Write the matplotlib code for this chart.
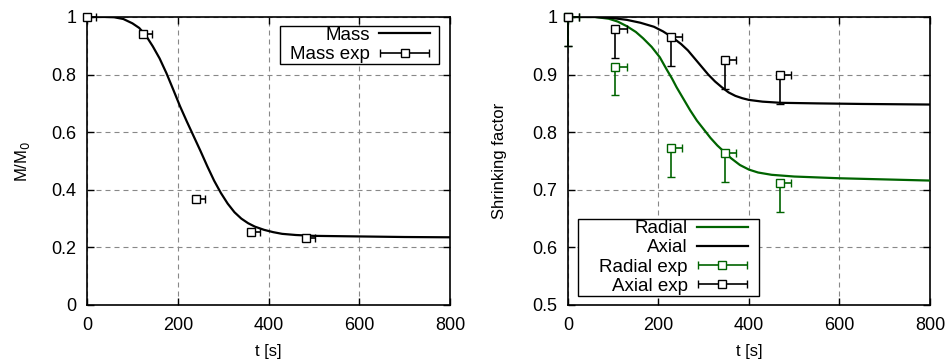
import matplotlib
matplotlib.use("Agg")
import matplotlib.pyplot as plt
from matplotlib.container import ErrorbarContainer
from matplotlib.legend_handler import HandlerErrorbar
from matplotlib.offsetbox import DrawingArea
import numpy as np

plt.rcParams['font.family'] = ['Liberation Sans', 'DejaVu Sans']
plt.rcParams['font.size'] = 13

# ---- Left panel data ----
mass_t = [0, 40, 60, 80, 100, 115, 130, 145, 160, 175, 190, 205, 220, 235, 250, 265,
          280, 295, 310, 325, 340, 355, 370, 390, 410, 430, 460, 500, 600, 700, 800]
mass_v = [1.000, 1.000, 0.999, 0.993, 0.978, 0.962, 0.935, 0.898, 0.856, 0.805, 0.748,
          0.690, 0.637, 0.586, 0.535, 0.482, 0.432, 0.389, 0.352, 0.322, 0.300, 0.284,
          0.272, 0.261, 0.253, 0.247, 0.243, 0.240, 0.238, 0.236, 0.235]
mass_exp_t = [0, 123, 241, 362, 482]
mass_exp_v = [1.0, 0.942, 0.367, 0.255, 0.234]
mass_exp_terr = [20, 20, 20, 20, 20]

# ---- Right panel data ----
axial_t = [0, 60, 100, 130, 160, 190, 210, 230, 250, 265, 280, 295, 310, 325, 340, 355,
           370, 385, 400, 430, 470, 550, 650, 800]
axial_v = [1.000, 1.000, 0.998, 0.995, 0.990, 0.983, 0.975, 0.965, 0.953, 0.942, 0.928,
           0.914, 0.900, 0.888, 0.878, 0.869, 0.863, 0.859, 0.856, 0.853, 0.851, 0.850,
           0.849, 0.848]
radial_t = [0, 60, 90, 110, 130, 150, 166, 185, 203, 218, 230, 240, 255, 270, 285, 300,
            315, 330, 345, 360, 380, 400, 420, 450, 500, 600, 700, 800]
radial_v = [1.000, 1.000, 0.997, 0.992, 0.984, 0.974, 0.963, 0.948, 0.930, 0.909, 0.893,
            0.878, 0.858, 0.838, 0.820, 0.805, 0.790, 0.777, 0.766, 0.755, 0.743, 0.735,
            0.730, 0.726, 0.723, 0.720, 0.718, 0.716]
exp_t = [0, 105, 227, 347, 468]
radial_exp_v = [1.0, 0.914, 0.772, 0.764, 0.711]
axial_exp_v = [1.0, 0.979, 0.965, 0.925, 0.899]
exp_terr = [25, 25, 25, 25, 25]
exp_verr = [0.05, 0.05, 0.05, 0.05, 0.05]

GREEN = '#006400'
GRID_LS = (0, (4.5, 3.6))
TICK_FS = 13
LEG_FS = 13.5
LABEL_FS = 12

W_IN, H_IN, DPI = 9.52, 3.62, 100
fig = plt.figure(figsize=(W_IN, H_IN), dpi=DPI)
ax1 = fig.add_axes([0.0914, 0.1575, 0.3813, 0.7956])
ax2 = fig.add_axes([0.5966, 0.1575, 0.3803, 0.7956])


def style_axes(ax):
    ax.grid(True, color='#888888', linestyle=GRID_LS, linewidth=0.8)
    ax.set_axisbelow(True)
    ax.tick_params(direction='in', top=True, right=True, length=5, width=1.0,
                   labelsize=TICK_FS)
    ax.tick_params(axis='x', pad=9)
    ax.tick_params(axis='y', pad=7.5)
    for s in ax.spines.values():
        s.set_linewidth(1.2)


def unclip(cont):
    for a in cont.get_children():
        a.set_clip_on(False)


def px2pt(px):
    return px * 72.0 / DPI


def make_legend(ax, loc, anchor, left_px, right_px):
    leg = ax.legend(loc=loc, bbox_to_anchor=anchor, bbox_transform=ax.transAxes,
                    markerfirst=False, fancybox=False, edgecolor='black', framealpha=1,
                    handlelength=2.72, handletextpad=0.5, labelspacing=0.11,
                    borderaxespad=0, borderpad=0.06, columnspacing=0, fontsize=LEG_FS,
                    handler_map={ErrorbarContainer: HandlerErrorbar(xerr_size=1.3)})
    leg.get_frame().set_linewidth(1.0)
    try:
        kids = leg._legend_handle_box.get_children()
        kids.insert(0, DrawingArea(px2pt(left_px), 0))
        kids.append(DrawingArea(px2pt(right_px), 0))
    except Exception:
        pass
    return leg


# Left
ax1.plot(mass_t, mass_v, color='black', lw=1.6, label='Mass', zorder=3)
zero = [0] * len(mass_exp_t)
eb = ax1.errorbar(mass_exp_t, mass_exp_v, xerr=[zero, mass_exp_terr], fmt='s',
                  color='black', mfc='white', mec='black', ms=6, mew=1.0,
                  elinewidth=1.2, capsize=3, capthick=1.2, label='Mass exp', zorder=4)
unclip(eb)
ax1.set_xlim(0, 800)
ax1.set_ylim(0, 1)
ax1.set_xticks([0, 200, 400, 600, 800])
ax1.set_yticks([0, 0.2, 0.4, 0.6, 0.8, 1.0])
ax1.set_yticklabels(['0', '0.2', '0.4', '0.6', '0.8', '1'])
ax1.set_xlabel('t [s]', labelpad=6.5, fontsize=LABEL_FS)
ax1.set_ylabel('M/M$_0$', labelpad=14, fontsize=LABEL_FS)
style_axes(ax1)
make_legend(ax1, 'upper right', (1 - 10.7 / 363.0, 1 - 8.7 / 288.0), 9, 8)

# Right
ax2.plot(radial_t, radial_v, color=GREEN, lw=1.6, label='Radial', zorder=3)
ax2.plot(axial_t, axial_v, color='black', lw=1.6, label='Axial', zorder=3)
zero2 = [0] * len(exp_t)
eb_r = ax2.errorbar(exp_t, radial_exp_v, xerr=[zero2, exp_terr], yerr=[exp_verr, zero2],
                    fmt='s', color=GREEN, mfc='white', mec=GREEN, ms=6, mew=1.0,
                    elinewidth=1.2, capsize=3, capthick=1.2, label='Radial exp', zorder=4)
eb_a = ax2.errorbar(exp_t, axial_exp_v, xerr=[zero2, exp_terr], yerr=[exp_verr, zero2],
                    fmt='s', color='black', mfc='white', mec='black', ms=6, mew=1.0,
                    elinewidth=1.2, capsize=3, capthick=1.2, label='Axial exp', zorder=4)
unclip(eb_r)
unclip(eb_a)
eb_r.has_yerr = False
eb_a.has_yerr = False
ax2.set_xlim(0, 800)
ax2.set_ylim(0.5, 1)
ax2.set_xticks([0, 200, 400, 600, 800])
ax2.set_yticks([0.5, 0.6, 0.7, 0.8, 0.9, 1.0])
ax2.set_yticklabels(['0.5', '0.6', '0.7', '0.8', '0.9', '1'])
ax2.set_xlabel('t [s]', labelpad=6.5, fontsize=LABEL_FS)
ax2.set_ylabel('Shrinking factor', labelpad=18, fontsize=LABEL_FS)
style_axes(ax2)
make_legend(ax2, 'lower left', (10.0 / 362.0, 9.0 / 288.0), 20, 10)

fig.savefig('out.png', dpi=DPI)
